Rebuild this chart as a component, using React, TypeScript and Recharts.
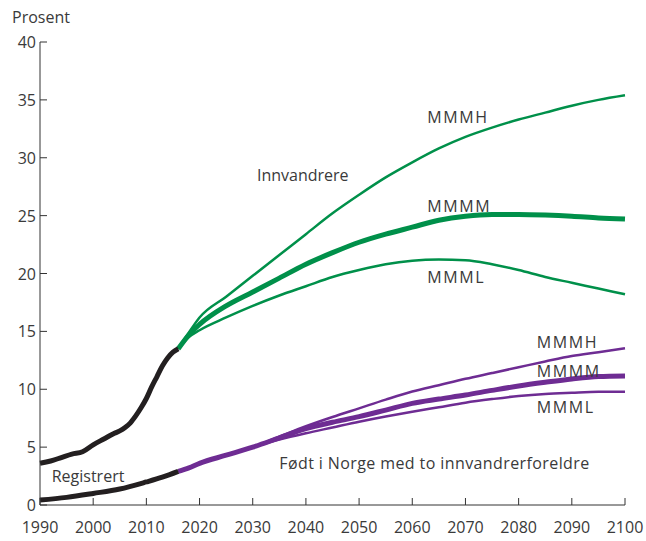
import React from 'react';
import { LineChart, Line, XAxis, YAxis, ReferenceDot } from 'recharts';

const histYears = [1990, 1992, 1994, 1996, 1998, 2000, 2002, 2004, 2005, 2006, 2007, 2008, 2009, 2010, 2011, 2012, 2013, 2014, 2015, 2016];
const histImmigrants = [3.6, 3.8, 4.1, 4.4, 4.6, 5.2, 5.7, 6.2, 6.4, 6.7, 7.1, 7.7, 8.4, 9.2, 10.2, 11.1, 12.0, 12.7, 13.2, 13.5];
const bornYears = [1990, 1995, 2000, 2005, 2010, 2013, 2016];
const histBorn = [0.43, 0.66, 1.0, 1.38, 1.99, 2.4, 2.9];

const projYears = [2016, 2018, 2020, 2025, 2030, 2035, 2040, 2045, 2050, 2055, 2060, 2065, 2070, 2075, 2080, 2085, 2090, 2095, 2100];
const immigrantsH = [13.5, 14.9, 16.2, 18.0, 19.8, 21.6, 23.4, 25.2, 26.8, 28.3, 29.6, 30.8, 31.8, 32.6, 33.3, 33.9, 34.5, 35.0, 35.4];
const immigrantsM = [13.5, 14.7, 15.6, 17.2, 18.4, 19.6, 20.8, 21.8, 22.7, 23.4, 24.0, 24.6, 24.95, 25.1, 25.1, 25.05, 24.95, 24.8, 24.7];
const immigrantsL = [13.5, 14.5, 15.1, 16.2, 17.2, 18.1, 18.9, 19.7, 20.3, 20.8, 21.1, 21.2, 21.15, 20.8, 20.3, 19.7, 19.2, 18.7, 18.2];
const bornH = [2.9, 3.2, 3.6, 4.3, 5.0, 5.9, 6.8, 7.6, 8.35, 9.1, 9.8, 10.35, 10.9, 11.4, 11.9, 12.4, 12.87, 13.2, 13.54];
const bornM = [2.9, 3.2, 3.6, 4.3, 5.0, 5.8, 6.6, 7.15, 7.63, 8.2, 8.78, 9.15, 9.5, 9.9, 10.28, 10.6, 10.89, 11.1, 11.15];
const bornL = [2.9, 3.2, 3.6, 4.3, 5.0, 5.65, 6.2, 6.7, 7.2, 7.65, 8.06, 8.45, 8.84, 9.15, 9.42, 9.6, 9.7, 9.78, 9.79];

const xTicks = [1990, 2000, 2010, 2020, 2030, 2040, 2050, 2060, 2070, 2080, 2090, 2100];
const yTicks = [0, 5, 10, 15, 20, 25, 30, 35, 40];

// label text, anchor year, anchor value, letter spacing
const labels: [string, number, number, number][] = [
  ['Innvandrere', 2030.8, 28.5, 0],
  ['MMMH', 2062.8, 33.5, 1.6],
  ['MMMM', 2062.8, 25.8, 1.6],
  ['MMML', 2062.8, 19.7, 1.6],
  ['MMMH', 2083.4, 14.1, 1.6],
  ['MMMM', 2083.4, 11.6, 1.6],
  ['MMML', 2083.4, 8.44, 1.6],
  ['Født i Norge med to innvandrerforeldre', 2035, 3.6, 0.4],
  ['Registrert', 1992.2, 2.5, 0],
];

const GREEN = '#00904a';
const PURPLE = '#6e2c93';
const BLACK = '#231f20';
const TEXT = '#3a3a3a';
const FONT = '"Open Sans", sans-serif';

const toSeries = (xs: number[], ys: number[]) => xs.map((x, i) => ({ year: x, v: ys[i] }));

const XTick = (props: any) => {
  const { x, y, payload } = props;
  return (
    <g>
      <line x1={x} y1={y} x2={x} y2={y - 7} stroke="#333" strokeWidth={1} />
      <text x={x} y={y + 28} textAnchor="middle" fill={TEXT} fontSize={16} fontFamily={FONT}>
        {payload.value}
      </text>
    </g>
  );
};

const YTick = (props: any) => {
  const { x, y, payload } = props;
  return (
    <g>
      <line x1={x} y1={y} x2={x + 7} y2={y} stroke="#333" strokeWidth={1} />
      <text x={x - 4} y={y + 6} textAnchor="end" fill={TEXT} fontSize={16} fontFamily={FONT}>
        {payload.value}
      </text>
    </g>
  );
};

const TextLabel = (text: string, spacing: number) => (props: any) => {
  const vb = props.viewBox || {};
  const cx = vb.x + (vb.width || 0) / 2;
  const cy = vb.y + (vb.height || 0) / 2;
  return (
    <text x={cx} y={cy + 6} textAnchor="start" fill={TEXT} fontSize={16} fontFamily={FONT} letterSpacing={spacing}>
      {text}
    </text>
  );
};

export default function App() {
  return (
    <div style={{ position: 'absolute', left: 0, top: 0, width: 646, height: 541, background: '#fff' }}>
      <div style={{ position: 'absolute', left: 12, top: 6, fontFamily: FONT, fontSize: 16, color: TEXT }}>Prosent</div>
      <LineChart width={646} height={541} margin={{ top: 42, right: 21, bottom: 0, left: 0 }}>
        <XAxis
          dataKey="year"
          type="number"
          domain={[1990, 2100]}
          ticks={xTicks}
          height={36}
          tickSize={0}
          tickMargin={0}
          tickLine={false}
          stroke="#333"
          tick={<XTick />}
          allowDuplicatedCategory={false}
        />
        <YAxis
          type="number"
          domain={[0, 40]}
          ticks={yTicks}
          width={40}
          tickSize={0}
          tickMargin={0}
          tickLine={false}
          stroke="#333"
          tick={<YTick />}
        />
        <Line data={toSeries(projYears, immigrantsH)} dataKey="v" type="monotone" stroke={GREEN} strokeWidth={2.5} dot={false} isAnimationActive={false} />
        <Line data={toSeries(projYears, immigrantsL)} dataKey="v" type="monotone" stroke={GREEN} strokeWidth={2.5} dot={false} isAnimationActive={false} />
        <Line data={toSeries(projYears, immigrantsM)} dataKey="v" type="monotone" stroke={GREEN} strokeWidth={5} dot={false} isAnimationActive={false} />
        <Line data={toSeries(projYears, bornH)} dataKey="v" type="monotone" stroke={PURPLE} strokeWidth={2.5} dot={false} isAnimationActive={false} />
        <Line data={toSeries(projYears, bornL)} dataKey="v" type="monotone" stroke={PURPLE} strokeWidth={2.5} dot={false} isAnimationActive={false} />
        <Line data={toSeries(projYears, bornM)} dataKey="v" type="monotone" stroke={PURPLE} strokeWidth={5} dot={false} isAnimationActive={false} />
        <Line data={toSeries(histYears, histImmigrants)} dataKey="v" type="monotone" stroke={BLACK} strokeWidth={5} dot={false} isAnimationActive={false} />
        <Line data={toSeries(bornYears, histBorn)} dataKey="v" type="monotone" stroke={BLACK} strokeWidth={5} dot={false} isAnimationActive={false} />
        {labels.map(([text, x, y, sp], i) => (
          <ReferenceDot key={i} x={x} y={y} r={1} fill="none" stroke="none" label={TextLabel(text, sp)} />
        ))}
      </LineChart>
    </div>
  );
}
